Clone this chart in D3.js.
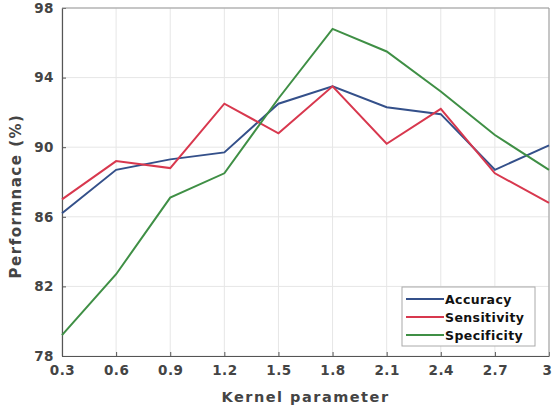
<!DOCTYPE html>
<html><head><meta charset="utf-8">
<script src="https://cdn.jsdelivr.net/npm/d3@7"></script>
<style>body{margin:0;background:#fff}svg{display:block}</style>
</head><body><svg id="c" width="552" height="411"></svg>
<script>
const kernel = [0.3,0.6,0.9,1.2,1.5,1.8,2.1,2.4,2.7,3];
const xTickLabels = ["0.3","0.6","0.9","1.2","1.5","1.8","2.1","2.4","2.7","3"];
const yTicks = [78,82,86,90,94,98];
const accuracy    = [86.2,88.7,89.3,89.7,92.5,93.5,92.3,91.9,88.7,90.1];
const sensitivity = [87.0,89.2,88.8,92.5,90.8,93.5,90.2,92.2,88.5,86.8];
const specificity = [79.2,82.7,87.1,88.5,92.8,96.8,95.5,93.2,90.7,88.7];
const seriesNames = ["Accuracy","Sensitivity","Specificity"];
const seriesColors = ["#34508a","#d8384e","#3f8f45"];
const series = [accuracy, sensitivity, specificity];

const svg = d3.select("#c");
const L=62, R=549, T=8, B=356;
const x = d3.scaleLinear().domain([0.3,3]).range([L,R]);
const y = d3.scaleLinear().domain([78,98]).range([B,T]);
const font = "'DejaVu Sans', Verdana, sans-serif";

// grid
svg.append("g").selectAll("line").data(kernel).join("line")
  .attr("x1",d=>x(d)).attr("x2",d=>x(d)).attr("y1",T).attr("y2",B)
  .attr("stroke","#e6e6e6").attr("stroke-width",1);
svg.append("g").selectAll("line").data(yTicks).join("line")
  .attr("x1",L).attr("x2",R).attr("y1",d=>y(d)).attr("y2",d=>y(d))
  .attr("stroke","#e6e6e6").attr("stroke-width",1);

// axes
const xAxis = d3.axisBottom(x).tickValues(kernel).tickFormat((d,i)=>xTickLabels[i]).tickSizeInner(-4).tickSizeOuter(0).tickPadding(9);
const gx = svg.append("g").attr("transform",`translate(0,${B})`).call(xAxis);
const yAxis = d3.axisLeft(y).tickValues(yTicks).tickSizeInner(-4).tickSizeOuter(0).tickPadding(8);
const gy = svg.append("g").attr("transform",`translate(${L},0)`).call(yAxis);
[gx,gy].forEach(g=>{
  g.select(".domain").attr("stroke","#555").attr("stroke-width",1.2);
  g.selectAll(".tick line").attr("stroke","#555");
  g.selectAll("text").attr("font-family",font).attr("font-weight","bold").attr("font-size",13.5)
    .attr("letter-spacing",0.5).attr("fill","#444");
});
// keep the last x label inside the page
gx.selectAll(".tick text").filter((d,i,n)=>i===n.length-1)
  .attr("text-anchor","end").attr("dx",3);
// top/right box
svg.append("line").attr("x1",L).attr("x2",R).attr("y1",T).attr("y2",T).attr("stroke","#999");
svg.append("line").attr("x1",R).attr("x2",R).attr("y1",T).attr("y2",B).attr("stroke","#999");

// lines
const line = d3.line().x((d,i)=>x(kernel[i])).y(d=>y(d));
series.forEach((s,k)=>{
  svg.append("path").datum(s).attr("d",line).attr("fill","none")
    .attr("stroke",seriesColors[k]).attr("stroke-width",2);
});

// labels
svg.append("text").attr("x",(L+R)/2).attr("y",402).attr("text-anchor","middle")
  .attr("font-family",font).attr("font-weight","bold").attr("font-size",14.5).attr("letter-spacing",1.5).attr("fill","#444")
  .text("Kernel parameter");
svg.append("text").attr("transform",`translate(21,196) rotate(-90)`).attr("text-anchor","middle")
  .attr("font-family",font).attr("font-weight","bold").attr("font-size",15).attr("letter-spacing",1.5).attr("fill","#444")
  .text("Performnace (%)");

// legend
const lg = svg.append("g");
lg.append("rect").attr("x",402).attr("y",287).attr("width",133).attr("height",59)
  .attr("fill","#fff").attr("stroke","#aaa");
seriesNames.forEach((n,i)=>{
  const yy = 299 + i*18;
  lg.append("line").attr("x1",406).attr("x2",444).attr("y1",yy).attr("y2",yy)
    .attr("stroke",seriesColors[i]).attr("stroke-width",2);
  lg.append("text").attr("x",445).attr("y",yy+4.5).attr("font-family",font)
    .attr("font-weight","bold").attr("font-size",12.5).attr("letter-spacing",0.4).attr("fill","#111").text(n);
});
</script></body></html>
